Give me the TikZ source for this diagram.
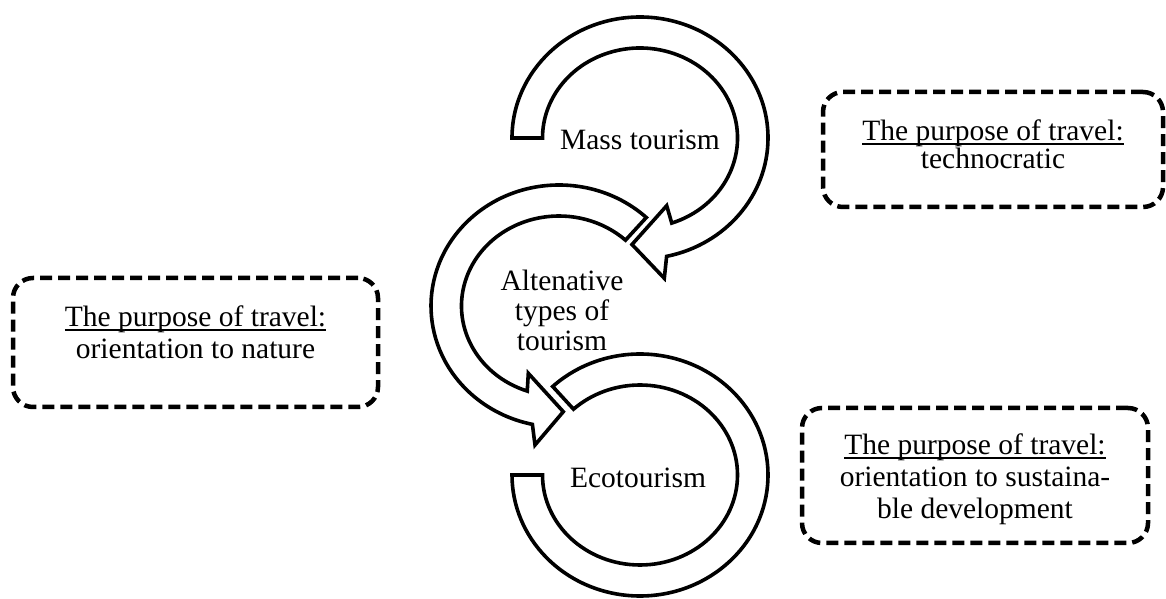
\documentclass[tikz,border=0pt]{standalone}
\usepackage{fontspec}
\setmainfont{Liberation Serif}
\usetikzlibrary{calc,positioning}

\newcommand{\purposeline}[1]{\leavevmode\setbox0\hbox{#1}\rlap{\rule[-4.5pt]{\wd0}{1.8pt}}\box0}

\begin{document}
\begin{tikzpicture}[
        x=1pt, y=1pt,
        font=\fontsize{29.5}{32}\selectfont,
        ring/.style={
            draw, fill=white, line width=3.6pt
        },
        goalbox/.style={
            draw, dash pattern=on 12pt off 6pt, line width=4.5pt,
            rounded corners=20pt
        },
        stage/.style={align=center}
        ]

        % --- Canvas ---
        \useasboundingbox (0,0) rectangle (1166,599);

        % --- Ring radii (outer / inner) ---
        \def\rxo{128}
        \def\ryo{121}
        \def\rxi{97.5}
        \def\ryi{90}

        % --- Ring centres ---
        \coordinate (mass) at (640,461);
        \coordinate (alt) at (559,293);
        \coordinate (eco) at (640,124);

        % --- Top ring: mass tourism ---
        \draw[ring] ($(mass)+(-\rxo,0)$)
            arc[start angle=180, end angle=-78, x radius=\rxo, y radius=\ryo]
            -- ($(mass)+(24.3,-140.3)$) -- ($(mass)+(-8,-106.5)$)
            -- ($(mass)+(26.7,-67.7)$)
            -- ($(mass)+({\rxi*cos(-71)},{\ryi*sin(-71)})$)
            arc[start angle=-71, end angle=180, x radius=\rxi, y radius=\ryi]
            -- cycle;

        % --- Middle ring: alternative types ---
        \draw[ring] ($(alt)+({\rxo*cos(47)},{\ryo*sin(47)})$)
            arc[start angle=47, end angle=258, x radius=\rxo, y radius=\ryo]
            -- ($(alt)+(-24,-139)$) -- ($(alt)+(4.3,-105.7)$)
            -- ($(alt)+(-30.7,-67.3)$)
            -- ($(alt)+({\rxi*cos(251)},{\ryi*sin(251)})$)
            arc[start angle=251, end angle=47, x radius=\rxi, y radius=\ryi]
            -- cycle;

        % --- Bottom ring: ecotourism ---
        \draw[ring] ($(eco)+({\rxo*cos(133)},{\ryo*sin(133)})$)
            arc[start angle=133, end angle=-180, x radius=\rxo, y radius=\ryo]
            -- ($(eco)+(-\rxi,0)$)
            arc[start angle=-180, end angle=133, x radius=\rxi, y radius=\ryi]
            -- cycle;

        % --- Stage labels ---
        \node[stage] (masstext) at (640,459) {Mass tourism};
        \node[stage] (alttext) at (562,289) {Altenative\\[-2pt] types of\\[-2pt] tourism};
        \node[stage] (ecotext) at (638,121) {Ecotourism};

        % --- Purpose boxes ---
        \node[goalbox, minimum width=340pt, minimum height=115pt] (techno) at (993,449.5) {};
        \node[stage] (technotext) at ($(techno)+(0,5)$)
        {\purposeline{The purpose of travel:}\\[-4pt] technocratic};

        \node[goalbox, minimum width=365pt, minimum height=129pt] (nature) at (195.5,256.5) {};
        \node[stage] (naturetext) at ($(nature)+(0,10)$)
        {\purposeline{The purpose of travel:}\\ orientation to nature};

        \node[goalbox, minimum width=346pt, minimum height=135pt] (sustain) at (975,123.5) {};
        \node[stage] (sustaintext) at ($(sustain)+(0,-4)$)
        {\purposeline{The purpose of travel:}\\ orientation to sustaina-\\ble development};

    \end{tikzpicture}
\end{document}
